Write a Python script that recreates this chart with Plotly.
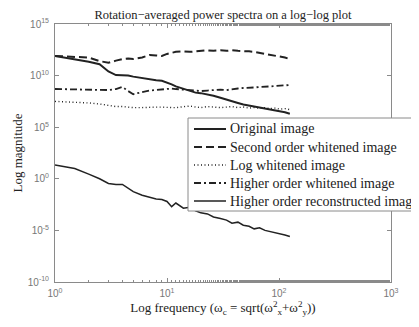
import plotly.graph_objects as go

freq = [1, 1.5, 2, 2.5, 3, 3.5, 4, 4.5, 5, 6, 7, 8, 9, 10, 11, 12, 14, 16, 18, 20, 23, 26, 30,
        34, 38, 43, 48, 54, 60, 67, 75, 83, 92, 102, 113, 125]

# log10 magnitudes
original = [11.9, 11.6, 11.35, 11.1, 10.4, 10.05, 10.05, 10.0, 9.9, 9.75, 9.65, 9.55, 9.5, 9.35,
            9.15, 8.95, 8.7, 8.5, 8.35, 8.3, 8.2, 8.05, 7.85, 7.65, 7.5, 7.35, 7.2, 7.1, 7.0,
            6.9, 6.8, 6.7, 6.6, 6.55, 6.45, 6.3]
second = [11.9, 11.85, 11.75, 11.4, 11.25, 11.45, 11.6, 11.65, 11.6, 11.75, 12.0, 11.95, 11.9,
          12.1, 12.2, 12.3, 12.35, 12.3, 12.35, 12.4, 12.45, 12.4, 12.45, 12.4, 12.45, 12.4,
          12.4, 12.35, 12.3, 12.2, 12.15, 12.05, 11.95, 11.85, 11.75, 11.6]
logwhite = [7.5, 7.45, 7.35, 7.25, 7.1, 7.0, 7.0, 6.95, 6.9, 6.9, 6.95, 6.95, 6.95, 6.9, 6.9,
            6.9, 7.0, 7.05, 6.95, 6.9, 7.0, 6.95, 6.9, 6.95, 7.0, 6.9, 6.95, 6.85, 6.9, 6.85,
            6.9, 6.8, 6.85, 6.75, 6.8, 6.7]
higher = [8.7, 8.65, 8.6, 8.55, 8.6, 8.7, 8.9, 8.5, 8.2, 8.4, 8.55, 8.6, 8.65, 8.7, 8.75, 8.7,
          8.65, 8.6, 8.55, 8.5, 8.55, 8.6, 8.65, 8.6, 8.7, 8.75, 8.8, 8.8, 8.85, 8.9, 8.9,
          8.95, 9.0, 9.0, 9.05, 9.1]
recon = [1.35, 1.0, 0.45, 0.0, -0.45, -0.55, -0.55, -0.9, -1.25, -1.6, -1.8, -1.95, -2.0, -2.2,
         -2.7, -2.35, -2.85, -2.75, -3.1, -3.3, -3.4, -3.7, -3.85, -4.0, -4.3, -4.2, -4.5,
         -4.6, -4.85, -4.75, -5.0, -5.1, -5.2, -5.3, -5.45, -5.6]

names = ["Original image", "Second order whitened image", "Log whitened image",
         "Higher order whitened image", "Higher order reconstructed image"]
series = [original, second, logwhite, higher, recon]
dashes = ["solid", "8px,4px", "1px,2.5px", "7px,3px,2px,3px", "solid"]
widths = [2, 2, 1.4, 1.8, 1.5]

ytick = [1e-10, 1e-5, 1, 1e5, 1e10, 1e15]
ytext = ["10<sup>-10</sup>", "10<sup>-5</sup>", "10<sup>0</sup>", "10<sup>5</sup>",
         "10<sup>10</sup>", "10<sup>15</sup>"]
xtick = [1, 10, 100, 1000]
xtext = ["10<sup>0</sup>", "10<sup>1</sup>", "10<sup>2</sup>", "10<sup>3</sup>"]

# page offset of the figure inside the browser body (default 8px body margin)
OFF = 8
W, H = 419, 327
# target plot box on screen: x 55..391, y 24..282
SL, SR, ST, SB = 55, 391, 24, 282
ML, MT = SL - OFF, ST - OFF
PW, PH = SR - SL, SB - ST
MR, MB = W - ML - PW, H - MT - PH


def px_x(px):  # screen px -> paper x
    return (px - SL) / PW


def px_y(py):  # screen px -> paper y
    return (SB - py) / PH


axcol = "#8a8a8a"
ink = "#222222"

fig = go.Figure()
for nm, s, d, w in zip(names, series, dashes, widths):
    fig.add_trace(go.Scatter(x=freq, y=[10 ** v for v in s], mode="lines", name=nm,
                             showlegend=False,
                             line=dict(color=ink, width=w, dash=d)))

# legend box drawn above the plot, running past the right edge like the original
shapes = [dict(type="rect", xref="paper", yref="paper",
               x0=px_x(188), x1=px_x(445), y0=px_y(211), y1=px_y(118),
               fillcolor="white", line=dict(color=axcol, width=1), layer="above")]
annotations = []
rows = [129, 147, 165, 183, 201]
for nm, d, w, ry in zip(names, dashes, widths, rows):
    shapes.append(dict(type="line", xref="paper", yref="paper",
                       x0=px_x(194), x1=px_x(226), y0=px_y(ry), y1=px_y(ry),
                       line=dict(color=ink, width=w, dash=d), layer="above"))
    annotations.append(dict(text=nm, xref="paper", yref="paper", x=px_x(228), y=px_y(ry),
                            xanchor="left", yanchor="middle", showarrow=False,
                            font=dict(size=14, family="Liberation Serif", color=ink)))

fig.update_layout(
    width=W, height=H,
    margin=dict(l=ML, r=MR, t=MT, b=MB, autoexpand=False),
    paper_bgcolor="white", plot_bgcolor="white",
    font=dict(family="Liberation Serif", size=12, color=ink),
    title=dict(text="Rotation\u2212averaged power spectra on a log\u2212log plot",
               x=0.5, xref="paper", y=1 - 7 / H, yanchor="middle",
               font=dict(size=12.5, family="Liberation Serif", color=ink)),
    xaxis=dict(type="log", range=[0, 3], tickvals=xtick, ticktext=xtext,
               ticks="inside", ticklen=4, tickcolor=axcol, showline=True, linecolor=axcol,
               linewidth=1, mirror="ticks", showgrid=False, zeroline=False,
               minor=dict(ticks="inside", ticklen=2, tickcolor=axcol, showgrid=False),
               tickfont=dict(family="Liberation Sans", size=10, color="#777"),
               ticklabelstandoff=2,
               title=dict(text="Log frequency (\u03c9<sub>c</sub> = sqrt(\u03c9<sup>2</sup><sub>x</sub>+\u03c9<sup>2</sup><sub>y</sub>))",
                          font=dict(size=13, family="Liberation Serif", color=ink),
                          standoff=1)),
    yaxis=dict(type="log", range=[-10, 15], tickvals=ytick, ticktext=ytext,
               ticks="inside", ticklen=4, tickcolor=axcol, showline=True, linecolor=axcol,
               linewidth=1, mirror="ticks", showgrid=False, zeroline=False,
               tickfont=dict(family="Liberation Sans", size=10, color="#777"),
               ticklabelstandoff=3,
               title=dict(text="Log magnitude",
                          font=dict(size=13, family="Liberation Serif", color=ink),
                          standoff=2)),
    shapes=shapes,
    annotations=annotations,
    showlegend=False,
)

fig.write_html("out.html")
